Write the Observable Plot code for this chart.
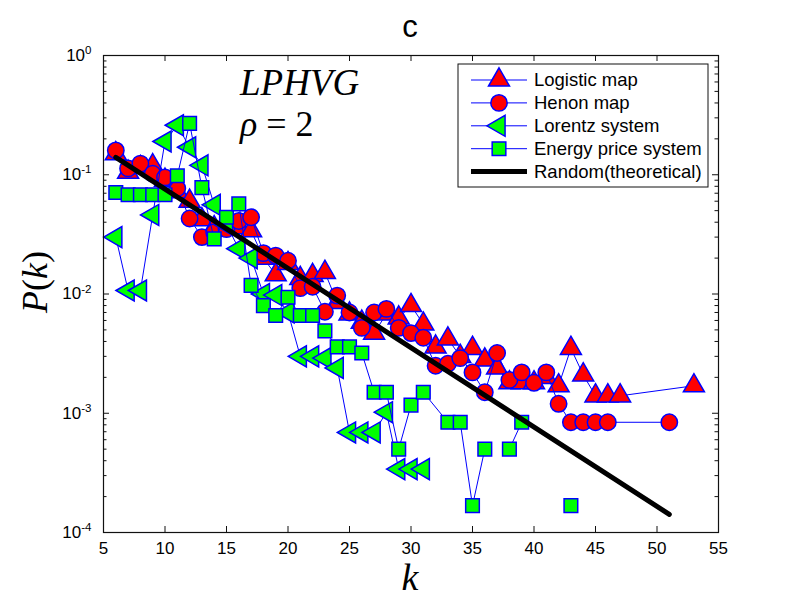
<!DOCTYPE html>
<html><head><meta charset="utf-8">
<script src="https://cdn.jsdelivr.net/npm/d3@7"></script>
<script src="https://cdn.jsdelivr.net/npm/@observablehq/plot@0.6"></script>
<style>body{margin:0;background:#fff}</style>
</head><body><div id="chart"></div>
<script>
// ---------- data ----------
const kLogistic = [6,7,8,9,10,11,12,13,14,15,16,17,18,19,20,21,22,23,24,25,26,27,28,29,30,31,32,33,34,35,36,37,38,39,40,41,42,43,44,45,46,47,53];
const pLogistic = [0.15,0.105,0.115,0.119,0.09,0.072,0.06,0.042,0.036,0.038,0.036,0.034,0.02,0.0145,0.018,0.0135,0.0143,0.0152,0.0085,0.0068,0.0058,0.0047,0.0068,0.0063,0.008,0.0056,0.0036,0.0042,0.003,0.0035,0.0028,0.0024,0.0018,0.0018,0.0018,0.002,0.0017,0.0035,0.0021,0.0014,0.0014,0.0014,0.0017];

const kHenon = [6,7,8,9,10,11,12,13,14,15,16,17,18,19,20,21,22,23,24,25,26,27,28,29,30,31,32,33,34,35,36,37,38,39,40,41,42,43,44,45,46,51];
const pHenon = [0.16,0.113,0.124,0.102,0.095,0.077,0.043,0.03,0.033,0.035,0.041,0.044,0.022,0.021,0.019,0.0112,0.0115,0.0071,0.0097,0.007,0.0052,0.007,0.0075,0.0052,0.0047,0.0043,0.0025,0.0026,0.0029,0.0022,0.0015,0.0032,0.0019,0.0022,0.0018,0.0022,0.0012,0.00084,0.00084,0.00084,0.00084,0.00084];

const kLorentz = [6,7,8,9,10,11,12,13,14,15,16,17,18,19,20,21,22,23,24,25,26,27,28,29,30,31];
const pLorentz = [0.03,0.0107,0.0107,0.046,0.19,0.26,0.17,0.12,0.056,0.038,0.024,0.02,0.01,0.0098,0.007,0.003,0.003,0.0029,0.0024,0.00069,0.00069,0.00069,0.00102,0.00034,0.00034,0.00034];

const kEnergy = [6,7,8,9,10,11,12,13,14,15,16,17,18,19,20,21,22,23,24,25,26,27,28,29,30,31,33,34,35,36,37,38,39,40,43];
const pEnergy = [0.071,0.068,0.068,0.068,0.068,0.098,0.27,0.078,0.029,0.044,0.057,0.0118,0.008,0.0066,0.0094,0.0066,0.0066,0.0049,0.0036,0.0036,0.0032,0.0015,0.0015,0.0005,0.00117,0.0015,0.00084,0.00084,0.000168,0.0005,null,0.0005,0.00084,null,0.000168];

const kRandom = [6, 51];
const pRandom = [0.14, 0.000142];

const xTicks = [5,10,15,20,25,30,35,40,45,50,55];
const yTicks = [1e-4,1e-3,1e-2,1e-1,1];
const seriesNames = ["Logistic map","Henon map","Lorentz system","Energy price system","Random(theoretical)"];

// ---------- layout ----------
const W = 795, H = 599;
const mL = 103, mR = 77, mT = 55, mB = 67;
const fw = W - mL - mR, fh = H - mT - mB;
const edge = "#0000ff";
const rCirc = 8.2, rTri = 7.8, rSq = 7.7;

const rows = (ks, ps) => ks.map((k, i) => ({k, p: ps[i]}));
const minorY = [];
for (const d of [1e-4,1e-3,1e-2,1e-1]) for (let m = 2; m <= 9; m++) minorY.push(d*m);

function series(data, symbol, fill, r, rotate) {
  return [
    Plot.line(data, {x: "k", y: "p", stroke: edge, strokeWidth: 1}),
    Plot.dot(data, {x: "k", y: "p", symbol, fill, stroke: edge, strokeWidth: 1.5, r, rotate})
  ];
}

const plot = Plot.plot({
  width: W, height: H,
  marginLeft: mL, marginRight: mR, marginTop: mT, marginBottom: mB,
  style: {fontFamily: "'Liberation Sans', Arial, sans-serif", fontSize: "17px", background: "white", color: "black"},
  x: {domain: [5, 55], ticks: xTicks, tickSize: 0, tickPadding: 9, label: null},
  y: {type: "log", domain: [1e-4, 1], ticks: yTicks, tickSize: 0, tickPadding: 12, label: null,
      tickFormat: d => "10^" + Math.round(Math.log10(d))},
  marks: [
    Plot.tickX(xTicks, {x: d => d, stroke: "#111", insetBottom: fh - 6}),
    Plot.tickX(xTicks, {x: d => d, stroke: "#111", insetTop: fh - 6}),
    Plot.tickY(yTicks, {y: d => d, stroke: "#111", insetRight: fw - 6}),
    Plot.tickY(yTicks, {y: d => d, stroke: "#111", insetLeft: fw - 6}),
    Plot.tickY(minorY, {y: d => d, stroke: "#111", insetRight: fw - 3.5}),
    Plot.tickY(minorY, {y: d => d, stroke: "#111", insetLeft: fw - 3.5}),
    ...series(rows(kLogistic, pLogistic), "triangle", "#ff0000", rTri, 0),
    ...series(rows(kHenon, pHenon), "circle", "#ff0000", rCirc, 0),
    ...series(rows(kLorentz, pLorentz), "triangle", "#00ff00", rTri, -90),
    ...series(rows(kEnergy, pEnergy), "square", "#00ff00", rSq, 0),
    Plot.line(rows(kRandom, pRandom), {x: "k", y: "p", stroke: "black", strokeWidth: 5}),
    Plot.frame({stroke: "#111", strokeWidth: 1.2})
  ]
});
document.getElementById("chart").appendChild(plot);

// superscript exponents on the y tick labels
plot.querySelectorAll("text").forEach(t => {
  const m = /^10\^(-?\d+)$/.exec(t.textContent);
  if (!m) return;
  t.textContent = "10";
  const ts = document.createElementNS("http://www.w3.org/2000/svg", "tspan");
  ts.setAttribute("dy", "-0.6em");
  ts.setAttribute("font-size", "0.68em");
  ts.textContent = m[1];
  t.appendChild(ts);
});

const svg = d3.select(plot);
const serif = "'Liberation Serif', 'Times New Roman', serif";

// title
svg.append("text").attr("x", 410).attr("y", 37).attr("text-anchor", "middle")
  .attr("font-size", 31).attr("font-family", "'Liberation Sans', Arial, sans-serif").text("c");

// annotations
svg.append("text").attr("x", 240).attr("y", 95).attr("text-anchor", "start").attr("font-size", 37)
  .attr("font-family", serif).attr("font-style", "italic").text("LPHVG");
const rho = svg.append("text").attr("x", 240).attr("y", 136).attr("text-anchor", "start")
  .attr("font-size", 36).attr("font-family", serif);
rho.append("tspan").attr("font-style", "italic").text("ρ");
rho.append("tspan").text(" = 2");

// axis labels
svg.append("text").attr("x", 410).attr("y", 590).attr("text-anchor", "middle")
  .attr("font-size", 38).attr("font-family", serif).attr("font-style", "italic").text("k");
const yl = svg.append("text").attr("transform", "translate(47,282) rotate(-90)").attr("text-anchor", "middle")
  .attr("font-size", 36).attr("font-family", serif);
yl.append("tspan").attr("font-style", "italic").text("P");
yl.append("tspan").text("(");
yl.append("tspan").attr("font-style", "italic").text("k");
yl.append("tspan").text(")");

// legend
const lg = svg.append("g");
lg.append("rect").attr("x", 458).attr("y", 64).attr("width", 250).attr("height", 123)
  .attr("fill", "white").attr("stroke", "#111").attr("stroke-width", 1);
const legendSpec = [
  {sym: d3.symbolTriangle, fill: "#ff0000", r: rTri, rot: 0},
  {sym: d3.symbolCircle, fill: "#ff0000", r: rCirc, rot: 0},
  {sym: d3.symbolTriangle, fill: "#00ff00", r: rTri, rot: -90},
  {sym: d3.symbolSquare, fill: "#00ff00", r: rSq, rot: 0},
  {line: true}
];
legendSpec.forEach((e, i) => {
  const y = 80 + i * 22.9;
  if (e.line) {
    lg.append("line").attr("x1", 471).attr("x2", 527).attr("y1", y).attr("y2", y)
      .attr("stroke", "black").attr("stroke-width", 5);
  } else {
    lg.append("line").attr("x1", 471).attr("x2", 527).attr("y1", y).attr("y2", y)
      .attr("stroke", edge).attr("stroke-width", 1);
    lg.append("path").attr("d", d3.symbol(e.sym, e.r * e.r * Math.PI)())
      .attr("transform", `translate(499,${y}) rotate(${e.rot})`)
      .attr("fill", e.fill).attr("stroke", edge).attr("stroke-width", 1.5);
  }
  lg.append("text").attr("x", 534).attr("y", y).attr("dy", "0.35em").attr("text-anchor", "start")
    .attr("font-size", 18.5).attr("font-family", "'Liberation Sans', Arial, sans-serif")
    .text(seriesNames[i]);
});
</script>
</body></html>
